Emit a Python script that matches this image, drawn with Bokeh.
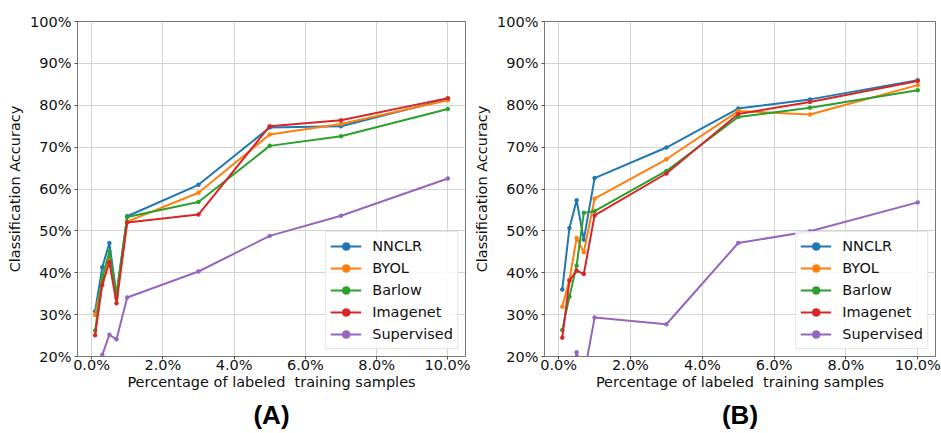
from bokeh.plotting import figure
from bokeh.layouts import row
from bokeh.models import Range1d, FixedTicker, PrintfTickFormatter, LinearAxis, Legend, LegendItem
from bokeh.embed import file_html
from bokeh.resources import INLINE

x_pct = [0.1, 0.3, 0.5, 0.7, 1.0, 3.0, 5.0, 7.0, 10.0]
series_names = ["NNCLR", "BYOL", "Barlow", "Imagenet", "Supervised"]
colors = ["#1f77b4", "#ff7f0e", "#2ca02c", "#d62728", "#9467bd"]

# Panel A
a_nnclr = [30.8, 41.3, 47.1, 34.5, 53.5, 61.0, 74.7, 75.0, 81.5]
a_byol = [29.9, 38.0, 43.5, 34.0, 52.2, 59.1, 73.0, 75.5, 81.2]
a_barlow = [26.2, 39.0, 45.0, 35.0, 53.3, 56.9, 70.3, 72.6, 79.1]
a_imagenet = [25.1, 37.1, 42.5, 32.7, 52.0, 53.9, 75.0, 76.4, 81.7]
a_supervised = [12.0, 20.4, 25.2, 24.1, 34.1, 40.3, 48.8, 53.6, 62.5]

# Panel B
b_nnclr = [36.0, 50.7, 57.3, 47.9, 62.6, 69.9, 79.2, 81.4, 86.0]
b_byol = [31.9, 38.3, 48.3, 44.9, 57.7, 67.1, 78.6, 77.8, 84.8]
b_barlow = [26.3, 34.3, 41.7, 54.3, 54.7, 64.3, 77.2, 79.4, 83.6]
b_imagenet = [24.5, 38.1, 40.5, 39.7, 53.7, 63.7, 77.9, 80.8, 85.8]
b_supervised = [10.0, 12.0, 21.0, 15.3, 29.3, 27.7, 47.1, 49.9, 56.8]

y_ticks = [20, 30, 40, 50, 60, 70, 80, 90, 100]
x_ticks = [0, 2, 4, 6, 8, 10]
panel_tags = ["(A)", "(B)"]

FONT = "DejaVu Sans"
FS = "14.5px"


def make_panel(data, tag, width, border_left, border_right):
    p = figure(width=width, height=433, output_backend="svg", toolbar_location=None,
               x_range=Range1d(-0.395, 10.495), y_range=Range1d(20, 100),
               min_border_left=border_left, min_border_right=border_right,
               min_border_top=21, min_border_bottom=77)
    p.background_fill_color = "white"
    p.border_fill_color = "white"
    p.outline_line_color = "#777777"
    p.outline_line_width = 1

    p.xaxis.ticker = FixedTicker(ticks=x_ticks)
    p.yaxis.ticker = FixedTicker(ticks=y_ticks)
    p.xaxis.formatter = PrintfTickFormatter(format="%.1f%%")
    p.yaxis.formatter = PrintfTickFormatter(format="%d%%")
    for ax in (p.xaxis, p.yaxis):
        ax.axis_line_color = "#777777"
        ax.major_tick_line_color = "#555555"
        ax.major_tick_out = 3
        ax.major_tick_in = 0
        ax.minor_tick_line_color = None
        ax.major_label_text_font = FONT
        ax.major_label_text_font_size = FS
        ax.major_label_text_color = "#111111"
        ax.axis_label_text_font = FONT
        ax.axis_label_text_font_size = FS
        ax.axis_label_text_font_style = "normal"
        ax.axis_label_text_color = "#111111"
    p.xaxis.major_label_standoff = -3
    p.yaxis.major_label_standoff = 3
    p.xaxis.axis_label = "Percentage of labeled\u00a0 training samples"
    p.yaxis.axis_label = "Classification Accuracy"
    p.xaxis.axis_label_standoff = -2
    p.yaxis.axis_label_standoff = 4

    p.xgrid.grid_line_color = "#d4d4d4"
    p.ygrid.grid_line_color = "#d4d4d4"
    p.xgrid.grid_line_width = 1
    p.ygrid.grid_line_width = 1

    items = []
    for name, ys, c in zip(series_names, data, colors):
        ln = p.line(x_pct, ys, line_color=c, line_width=2)
        sc = p.scatter(x_pct, ys, marker="circle", size=4, fill_color=c, line_color=c, line_width=0.5)
        items.append(LegendItem(label=name, renderers=[ln, sc]))

    legend = Legend(items=items, location="bottom_right")
    legend.label_text_font = FONT
    legend.label_text_font_size = FS
    legend.label_text_color = "#111111"
    legend.glyph_width = 31
    legend.glyph_height = 20
    legend.label_height = 20
    legend.label_standoff = 11
    legend.spacing = 2
    legend.padding = 4
    legend.margin = 7
    legend.border_line_color = "#cccccc"
    legend.border_line_width = 1
    legend.background_fill_alpha = 0.85
    p.add_layout(legend, "center")

    tag_axis = LinearAxis(ticker=FixedTicker(ticks=[]), axis_line_color=None,
                          major_tick_line_color=None, minor_tick_line_color=None,
                          major_tick_out=0, major_tick_in=0, major_label_standoff=0,
                          axis_label=tag, axis_label_standoff=7,
                          axis_label_text_font="Liberation Sans",
                          axis_label_text_font_size="26px",
                          axis_label_text_font_style="bold",
                          axis_label_text_color="#000000")
    p.add_layout(tag_axis, "below")
    return p


pA = make_panel([a_nnclr, a_byol, a_barlow, a_imagenet, a_supervised], panel_tags[0], 470, 77, 5)
pB = make_panel([b_nnclr, b_byol, b_barlow, b_imagenet, b_supervised], panel_tags[1], 471, 74, 6)

layout = row(pA, pB)
open("out.html", "w").write(file_html(layout, INLINE))
